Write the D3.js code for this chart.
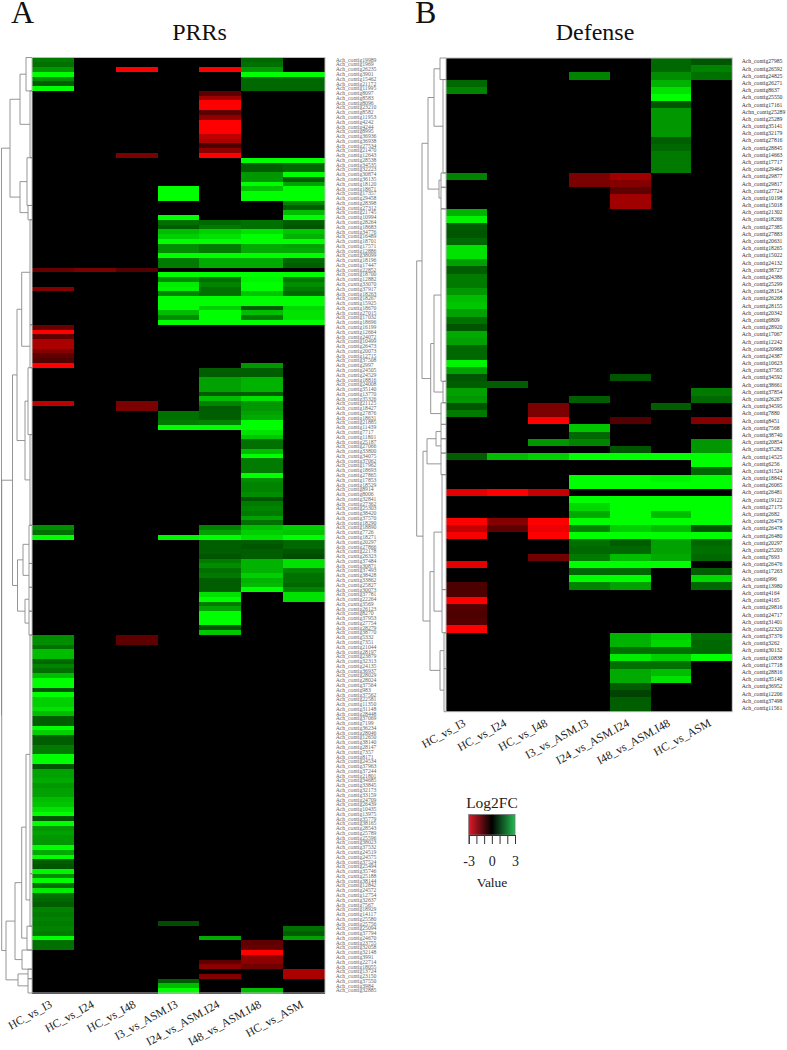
<!DOCTYPE html>
<html>
<head>
<meta charset="utf-8">
<script src="https://d3js.org/d3.v7.min.js"></script>
<style>
  body { margin: 0; background: #fff; }
  text { font-family: "Liberation Serif", serif; }
</style>
</head>
<body>
<div id="container"></div>
<script>
"use strict";

const samples = ["HC_vs_I3", "HC_vs_I24", "HC_vs_I48", "I3_vs_ASM.I3", "I24_vs_ASM.I24", "I48_vs_ASM.I48", "HC_vs_ASM"];

const prrGenes = [
  "19989","1969","26235","3901","15462","21172","11995","8097","8583","8096",
  "23210","8582","11953","4242","4244","8995","36936","36938","27534","21470",
  "12643","28538","34535","32223","30874","36135","18120","18671","17357","29458",
  "28398","27312","21745","10994","28264","18683","34776","16489","18701","17571",
  "12886","38099","18196","17447","22852","18700","12882","33070","37917","18263",
  "18267","15925","18670","27015","17032","18696","16199","12664","24072","10499",
  "26473","20073","12715","37508","2997","24505","24529","18816","24008","35140",
  "13770","35326","21125","18427","27876","18631","21885","11439","7717","11801",
  "25187","27066","33800","34075","37062","17962","18693","27865","17853","18529",
  "8914","8006","32841","27362","25303","38420","37570","18290","18890","7726",
  "18271","20297","27866","22178","26323","37484","30871","37493","38428","33862",
  "25827","30073","37781","22264","3569","26123","8270","37953","27754","28279",
  "38770","5332","7351","21044","28197","23879","32313","24135","36937","28029",
  "28024","37564","983","37562","22581","11350","31148","28448","37069","7199",
  "36234","28046","12650","38140","28147","7357","8171","24534","37963","37244",
  "21801","34685","33845","32173","33159","24709","26439","10435","13975","35779",
  "38165","28543","25789","25596","38023","37532","24519","24575","37524","25494",
  "35746","25188","38144","12842","24572","12754","32637","7567","18929","14117",
  "25580","25756","25094","37794","24670","23755","32058","32148","3991","22714",
  "18055","13724","23150","37550","3984","32885",
];

const prrHcI3 = [
  1.3,1.2,1.6,2.9,1.5,1,2.9,0,0,0,
  0,0,0,0,0,0,0,0,0,0,
  0,0,0,0,0,0,0,0,0,0,
  0,0,0,0,0,0,0,0,0,0,
  0,0,0,0,-1.1,0,0,0,-1.4,0,
  0,0,0,0,0,0,-1.1,-3,-1,-1.8,
  -1.8,-1.4,-1,-0.9,-3,0,0,0,0,0,
  0,0,-2,0,0,0,0,0,0,0,
  0,0,0,0,0,0,0,0,0,0,
  0,0,0,0,0,0,0,0,1.5,1.2,
  3,0,0,0,0,0,0,0,0,0,
  0,0,0,0,0,0,0,0,0,0,
  0,1.5,1.5,1.2,2,2,1.1,1.4,1.2,2,
  3,3,0.9,3,2.2,2.2,2.4,2,1,1,
  2.9,2.2,1,1,1.3,1.3,3,3,0.9,1.7,
  1.7,1.8,1.6,1.7,1.7,2,2.1,2.4,2.8,0.9,
  3,1.6,1.7,1.6,1.6,3,1.8,2.8,1,0.9,
  2.6,1.5,2.8,1.2,2.5,1.2,1.1,1,1.4,1.3,
  1.4,1.3,1.4,1.3,3,1.2,1.2,0,0,0,
  0,0,0,0,0,0,
];
const prrHcI24 = [
  0,0,0,0,0,0,0,0,0,0,
  0,0,0,0,0,0,0,0,0,0,
  0,0,0,0,0,0,0,0,0,0,
  0,0,0,0,0,0,0,0,0,0,
  0,0,0,0,-1.3,0,0,0,0,0,
  0,0,0,0,0,0,0,0,0,0,
  0,0,0,0,0,0,0,0,0,0,
  0,0,0,0,0,0,0,0,0,0,
  0,0,0,0,0,0,0,0,0,0,
  0,0,0,0,0,0,0,0,0,0,
  0,0,0,0,0,0,0,0,0,0,
  0,0,0,0,0,0,0,0,0,0,
  0,0,0,0,0,0,0,0,0,0,
  0,0,0,0,0,0,0,0,0,0,
  0,0,0,0,0,0,0,0,0,0,
  0,0,0,0,0,0,0,0,0,0,
  0,0,0,0,0,0,0,0,0,0,
  0,0,0,0,0,0,0,0,0,0,
  0,0,0,0,0,0,0,0,0,0,
  0,0,0,0,0,0,
];
const prrHcI48 = [
  0,0,-3,0,0,0,0,0,0,0,
  0,0,0,0,0,0,0,0,0,0,
  -1.3,0,0,0,0,0,0,0,0,0,
  0,0,0,0,0,0,0,0,0,0,
  0,0,0,0,-0.9,0,0,0,0,0,
  0,0,0,0,0,0,0,0,0,0,
  0,0,0,0,0,0,0,0,0,0,
  0,0,-1.3,-1.3,0,0,0,0,0,0,
  0,0,0,0,0,0,0,0,0,0,
  0,0,0,0,0,0,0,0,0,0,
  0,0,0,0,0,0,0,0,0,0,
  0,0,0,0,0,0,0,0,0,0,
  0,-1,-1,0,0,0,0,0,0,0,
  0,0,0,0,0,0,0,0,0,0,
  0,0,0,0,0,0,0,0,0,0,
  0,0,0,0,0,0,0,0,0,0,
  0,0,0,0,0,0,0,0,0,0,
  0,0,0,0,0,0,0,0,0,0,
  0,0,0,0,0,0,0,0,0,0,
  0,0,0,0,0,0,
];
const prrI3Asm = [
  0,0,0,0,0,0,0,0,0,0,
  0,0,0,0,0,0,0,0,0,0,
  0,0,0,0,0,0,0,3,3,3,
  0,0,0,2.8,1.2,1,2,2.2,2.9,1.5,
  1.5,3,1.3,1.3,0,2.9,1.5,2.5,2.6,1.4,
  2.7,3,3,2,1.5,3,0,0,0,0,
  0,0,0,0,0,0,0,0,0,0,
  0,0,0,0,1.2,1.2,1.3,2.8,0,0,
  0,0,0,0,0,0,0,0,0,0,
  0,0,0,0,0,0,0,0,0,0,
  2.6,0,0,0,0,0,0,0,0,0,
  0,0,0,0,0,0,0,0,0,0,
  0,0,0,0,0,0,0,0,0,0,
  0,0,0,0,0,0,0,0,0,0,
  0,0,0,0,0,0,0,0,0,0,
  0,0,0,0,0,0,0,0,0,0,
  0,0,0,0,0,0,0,0,0,0,
  0,0,0,0,0,0,0,0,0,0,
  0,0.8,0,0,0,0,0,0,0,0,
  0,0,0,1,2,3,
];
const prrI24Asm = [
  0,0,-3,0,0,0,0,-1,-1.7,-3,
  -2.8,-1,-1.5,-3,-3,-3,-2,-1.8,-0.8,-1.5,
  -3,0,0,0,0,0,0,0,0,0,
  0,0,0,0,1.1,1.3,2.2,2.4,3,1.3,
  1.3,3,1.8,1.8,0,2.9,1.2,1.4,1.2,1.2,
  3,3,2.2,2.8,2.8,3,0,0,0,0,
  0,0,0,0,0,1,1,1.7,1.7,1.7,
  1,2,1.4,1,1,1,1.4,2.7,0,0,
  0,0,0,0,0,0,0,0,0,0,
  0,0,0,0,0,0,0,0,1.4,1.7,
  2.9,1,1,1,0.9,1.3,1.5,1.2,1.3,1,
  1,1,2.4,2.7,1.3,1.7,3,3,3,0.9,
  2.1,0,0,0,0,0,0,0,0,0,
  0,0,0,0,0,0,0,0,0,0,
  0,0,0,0,0,0,0,0,0,0,
  0,0,0,0,0,0,0,0,0,0,
  0,0,0,0,0,0,0,0,0,0,
  0,0,0,0,0,0,0,0,0,0,
  0,0,0,0,1.8,0,0,0,0,-1,
  -1.5,0,-1.4,0,0,0,
];
const prrI48Asm = [
  1.1,1.2,1.6,2.9,1.1,1.1,1.1,0,0,0,
  0,0,0,0,0,0,0,0,0,0,
  0,3,1,1,1.6,1.6,2.9,2.1,3,3,
  0,0,0,0,1.2,1.2,2.4,3,3,1.8,
  1.8,3,1.8,1.8,0,2.9,2.6,2.8,2.8,2.1,
  3,3,1,2,1.3,3,0,0,0,0,
  0,0,0,0,1.6,1,1,1.9,1.9,1.9,
  1,2.4,1.6,1.6,1.7,1.8,2.9,3,2.4,2.1,
  1.2,1.2,2,2.9,1.3,1.3,1.3,3,1.5,1.4,
  1.4,1.5,0.9,1.3,1.4,1.3,1.7,1.2,2,2.2,
  2.4,1,0.9,1,1,1.9,1.9,1.9,2.2,1.9,
  2,3,0,0,0,0,0,0,0,0,
  0,0,0,0,0,0,0,0,0,0,
  0,0,0,0,0,0,0,0,0,0,
  0,0,0,0,0,0,0,0,0,0,
  0,0,0,0,0,0,0,0,0,0,
  0,0,0,0,0,0,0,0,0,0,
  0,0,0,0,0,0,0,0,0,0,
  0,0,0,0,0,-1,-1.1,-3,-1.5,-1.5,
  -1.2,0,0,0,0,2,
];
const prrHcAsm = [
  0,0,0,2.9,1.1,1.1,1.1,0,0,0,
  0,0,0,0,0,0,0,0,0,0,
  0,3,1.1,1.1,2.8,1,1.7,2.8,2.8,2.8,
  1.4,1,2,2.9,1,0.9,2.1,1.9,2.8,1.7,
  1.8,2.9,1.1,1,0,2.9,1.3,1.5,1.3,1.1,
  2.8,2.9,2.3,2.4,2.4,3,0,0,0,0,
  0,0,0,0,0,0,0,0,0,0,
  0,0,0,0,0,0,0,0,0,0,
  0,0,0,0,0,0,0,0,0,0,
  0,0,0,0,0,0,0,0,2.2,2.1,
  3,1.1,1.1,0.9,0.8,2.4,2.4,1.4,1.2,1.2,
  1.1,1.4,2.4,2.4,0,0,0,0,0,0,
  0,0,0,0,0,0,0,0,0,0,
  0,0,0,0,0,0,0,0,0,0,
  0,0,0,0,0,0,0,0,0,0,
  0,0,0,0,0,0,0,0,0,0,
  0,0,0,0,0,0,0,0,0,0,
  0,0,0,0,0,0,0,0,0,0,
  0,0,1.2,1,1.7,0,0,0,0,0,
  0,-1.8,-1.8,0,0,0,
];

const defGenes = [
  "Ach_contig27985","Ach_contig26592","Ach_contig24825","Ach_contig26271","Ach_contig8637","Ach_contig25550","Ach_contig17161","Achn_contig25289","Ach_contig25289","Ach_contig35141",
  "Ach_contig32179","Ach_contig27816","Ach_contig28845","Ach_contig14663","Ach_contig17717","Ach_contig29464","Ach_contig29877","Ach_contig29817","Ach_contig27724","Ach_contig10198",
  "Ach_contig15018","Ach_contig21302","Ach_contig18266","Ach_contig27385","Ach_contig27883","Ach_contig20631","Ach_contig18265","Ach_contig15022","Ach_contig24132","Ach_contig38727",
  "Ach_contig24386","Ach_contig25299","Ach_contig28154","Ach_contig26268","Ach_contig28155","Ach_contig20342","Ach_contig6809","Ach_contig28920","Ach_contig17067","Ach_contig12242",
  "Ach_contig20968","Ach_contig24387","Ach_contig10623","Ach_contig37565","Ach_contig34592","Ach_contig38661","Ach_contig37854","Ach_contig26267","Ach_contig34595","Ach_contig7880",
  "Ach_contig8451","Ach_contig7568","Ach_contig38740","Ach_contig20854","Ach_contig35282","Ach_contig14525","Ach_contig6256","Ach_contig31524","Ach_contig18842","Ach_contig26065",
  "Ach_contig26481","Ach_contig19122","Ach_contig27175","Ach_contig2682","Ach_contig26479","Ach_contig26478","Ach_contig26480","Ach_contig20297","Ach_contig25203","Ach_contig7693",
  "Ach_contig26476","Ach_contig17263","Ach_contig996","Ach_contig13980","Ach_contig4164","Ach_contig4165","Ach_contig29816","Ach_contig24717","Ach_contig31401","Ach_contig22320",
  "Ach_contig37376","Ach_contig3262","Ach_contig30132","Ach_contig10838","Ach_contig17718","Ach_contig28816","Ach_contig35140","Ach_contig36952","Ach_contig12206","Ach_contig37498",
  "Ach_contig11561",
];

const defHcI3 = [
  0,0,0,1.1,1.4,0,0,0,0,0,
  0,0,0,0,0,0,1.4,0,0,0,
  0,1.9,2.6,1,0.9,1.1,2.4,2.4,1.7,1,
  1.3,1.3,1.6,2,2.1,1.7,1.2,0.9,1.8,1.7,
  1.1,1.1,2.6,1.7,0.9,1,1.7,1.6,0.9,1.3,
  0,0,0,0,0,1,0,0,0,0,
  -2.4,0,0,0,-3,-2.1,-2.6,0,0,0,
  -2.4,0,0,-0.8,-0.8,-3,-0.9,-0.8,-0.9,-3,
  0,0,0,0,0,0,0,0,0,0,
  0,
];
const defHcI24 = [
  0,0,0,0,0,0,0,0,0,0,
  0,0,0,0,0,0,0,0,0,0,
  0,0,0,0,0,0,0,0,0,0,
  0,0,0,0,0,0,0,0,0,0,
  0,0,0,0,0,1,0,0,0,0,
  0,0,0,0,0,2,0,0,0,0,
  -3,0,0,0,-1.4,-1,0,0,0,0,
  0,0,0,0,0,0,0,0,0,0,
  0,0,0,0,0,0,0,0,0,0,
  0,
];
const defHcI48 = [
  0,0,0,0,0,0,0,0,0,0,
  0,0,0,0,0,0,0,0,0,0,
  0,0,0,0,0,0,0,0,0,0,
  0,0,0,0,0,0,0,0,0,0,
  0,0,0,0,0,0,0,0,-1.3,-1.3,
  -3,0,0,1.6,0,2.2,0,0,0,0,
  -2.1,0,0,0,-3,-2.5,-3,0,0,-1.2,
  0,0,0,0,0,0,0,0,0,0,
  0,0,0,0,0,0,0,0,0,0,
  0,
];
const defI3Asm = [
  0,0,1.4,0,0,0,0,0,0,0,
  0,0,0,0,0,0,-1.3,-1.3,0,0,
  0,0,0,0,0,0,0,0,0,0,
  0,0,0,0,0,0,0,0,0,0,
  0,0,0,0,0,0,0,1,0,0,
  0,2.1,1.1,1.4,0,3,0,0,3,3,
  0,3,2.3,1.8,3,1.4,3,1.2,1.1,1.3,
  3,1.1,3,1.4,0,0,0,0,0,0,
  0,0,0,0,0,0,0,0,0,0,
  0,
];
const defI24Asm = [
  0,0,0,0,0,0,0,0,0,0,
  0,0,0,0,0,0,-1.7,-1.4,-1,-1.7,
  -1.7,0,0,0,0,0,0,0,0,0,
  0,0,0,0,0,0,0,0,0,0,
  0,0,0,0,0.9,0,0,0,0,0,
  -0.9,0,0,0,0.9,3,0,0,2.8,3,
  0,3,3,3,3,2.2,3,1,1.1,2,
  3,1.1,3,1.7,0,0,0,0,0,0,
  1.9,1.9,1.2,2.5,1.2,1.8,1.8,1,0.7,1,
  1,
];
const defI48Asm = [
  1.1,1.1,1.5,1.9,2.4,3,0.9,1.6,1.6,1.6,
  1.6,1,1.1,1.3,1.3,1.3,0,0,0,0,
  0,0,0,0,0,0,0,0,0,0,
  0,0,0,0,0,0,0,0,0,0,
  0,0,0,0,0,0,0,0,1,0,
  0,0,0,0,0,3,0,0,2.6,3,
  0,3,3,2,3,2,3,1.7,1.7,1.8,
  3,0,0,0,0,0,0,0,0,0,
  2.2,2.3,1.2,2.2,1.2,2,2.4,0,0,0,
  0,
];
const defHcAsm = [
  0.9,1.4,1.2,0,0,0,0,0,0,0,
  0,0,0,0,0,0,0,0,0,0,
  0,0,0,0,0,0,0,0,0,0,
  0,0,0,0,0,0,0,0,0,0,
  0,0,0,0,0,0,1.3,1.1,0,0,
  -1.4,0,0,1.6,1.6,3,3,1.1,3,3,
  0,3,3,3,3,0.9,3,1.1,1.2,1.1,
  0,1,2.3,1.1,0,0,0,0,0,0,
  1.2,1.1,1.1,2.7,0,0,0,0,0,0,
  0,
];

// dendrograms: [merge height, child, child], a child with two plain numbers is a run of rows
const prrTree = [30.5,
  [22,
    [12, [6, 0, 6], [2, 7, 20]],
    [12, [5, 21, 30], [4, 31, 33]]],
  [30.3,
    [19.5,
      [15, [10.3, [2, 34, 55], [2, 56, 64]], [7, [4, 65, 78], [2, 79, 97]]],
      [14.5, [9, [3, 98, 105], [3, 106, 110]], [7, [3, 111, 115], [3, 116, 120]]]],
    [26,
      [17, [10.3, [6, [2, 121, 170], [2, 171, 181]], [5, 182, 186]], [10, 187, 190]],
      [14, [4, 191, 192], [4, 193, 195]]]],
];
const defTree = [29.3,
  [24,
    [18, [12, [6, 0, 2], [3, 3, 15]], [7, [5, 16, 17], [5, 18, 20]]],
    [15.3, [12, [5, 21, 44], [3, 45, 47]], [5, 48, 50]]],
  [23,
    [19, [10, [5, 51, 52], [5, 53, 54]], [5, 55, 57]],
    [16, [12, [4, 58, 73], [4, 74, 79]], [6, [2, 80, 84], [2, 85, 90]]]],
];

const legendTicks = [-3, -2, -1, 0, 1, 2, 3];
const legendLabels = [-3, 0, 3];

const width = 787;
const height = 1050;
const heatColor = d3
  .scaleLinear()
  .domain([-2.7, 0, 2.7])
  .range(["#ff0000", "#000000", "#00ff00"])
  .clamp(true);
const legendColor = ["#e01a28", "#000000", "#22bb4e"];

const svg = d3
  .select("#container")
  .append("svg")
  .attr("width", width)
  .attr("height", height);

const drawTree = (g, node, xScale, yScale) => {
  // a run of rows sits at the middle of its own bracket
  if (typeof node[1] === "number") {
    const top = yScale(node[1]);
    const bottom = yScale(node[2]) + yScale.bandwidth();
    g.append("line")
      .attr("x1", xScale(node[0]))
      .attr("x2", xScale(node[0]))
      .attr("y1", top)
      .attr("y2", bottom);
    g.append("line")
      .attr("x1", xScale(node[0]))
      .attr("x2", xScale(0))
      .attr("y1", top)
      .attr("y2", top);
    g.append("line")
      .attr("x1", xScale(node[0]))
      .attr("x2", xScale(0))
      .attr("y1", bottom)
      .attr("y2", bottom);
    return { h: node[0], y: (top + bottom) / 2 };
  }
  const a = drawTree(g, node[1], xScale, yScale);
  const b = drawTree(g, node[2], xScale, yScale);
  const x = xScale(node[0]);
  g.append("line").attr("x1", x).attr("x2", x).attr("y1", a.y).attr("y2", b.y);
  g.append("line").attr("x1", x).attr("x2", xScale(a.h)).attr("y1", a.y).attr("y2", a.y);
  g.append("line").attr("x1", x).attr("x2", xScale(b.h)).attr("y1", b.y).attr("y2", b.y);
  return { h: node[0], y: (a.y + b.y) / 2 };
};

const drawPanel = (p) => {
  const xScale = d3.scaleBand().domain(samples).range([p.left, p.right]);
  const yScale = d3.scaleBand().domain(d3.range(p.genes.length)).range([p.top, p.bottom]);

  // heat cells, one column of values per sample
  const cells = p.columns.flatMap((col, i) =>
    col.map((v, row) => ({ sample: samples[i], row: row, value: v }))
  );
  svg
    .append("g")
    .selectAll("rect")
    .data(cells)
    .enter()
    .append("rect")
    .attr("x", (d) => xScale(d.sample))
    .attr("y", (d) => yScale(d.row))
    .attr("width", xScale.bandwidth())
    .attr("height", yScale.bandwidth() + 0.5)
    .attr("fill", (d) => heatColor(d.value))
    .style("shape-rendering", "crispEdges");

  svg
    .append("rect")
    .attr("x", p.left)
    .attr("y", p.top)
    .attr("width", p.right - p.left)
    .attr("height", p.bottom - p.top)
    .attr("fill", "none")
    .attr("stroke", "#bdbdbd")
    .attr("stroke-width", 1);

  const treeX = d3.scaleLinear().domain([0, 31]).range([p.left, p.left - 31]);
  const treeG = svg
    .append("g")
    .attr("stroke", "#8a8a8a")
    .attr("stroke-width", 0.9)
    .attr("fill", "none");
  drawTree(treeG, p.tree, treeX, yScale);

  const rowAxis = d3
    .axisRight(yScale)
    .tickSize(0)
    .tickPadding(0)
    .tickFormat((i) => p.genes[i]);
  const rowG = svg
    .append("g")
    .attr("transform", `translate(${p.labelX}, 0)`)
    .call(rowAxis);
  rowG.select(".domain").remove();
  rowG
    .selectAll("text")
    .style("font-family", "'Liberation Serif', serif")
    .style("font-size", "5.7px")
    .attr("fill", p.labelColor);

  const colAxis = d3.axisBottom(xScale).tickSize(0).tickPadding(0);
  const colG = svg
    .append("g")
    .attr("transform", `translate(0, ${p.bottom + 13.6})`)
    .call(colAxis);
  colG.select(".domain").remove();
  colG
    .selectAll("text")
    .style("font-family", "'Liberation Serif', serif")
    .style("font-size", "11.7px")
    .attr("fill", "#222")
    .attr("text-anchor", "end")
    .attr("y", 0)
    .attr("dy", 0)
    .attr("transform", "rotate(-29)");

  svg
    .append("text")
    .attr("x", p.letterX)
    .attr("y", 23)
    .text(p.letter)
    .style("font-size", "32px")
    .attr("fill", "#111");
  svg
    .append("text")
    .attr("x", p.titleX)
    .attr("y", 40)
    .attr("text-anchor", "middle")
    .text(p.title)
    .style("font-size", "24px")
    .attr("fill", "#111");
};

drawPanel({
  left: 32,
  right: 325,
  top: 57.5,
  bottom: 993,
  labelX: 335.7,
  labelColor: "#666",
  letter: "A",
  letterX: 11,
  title: "PRRs",
  titleX: 199.5,
  // gene ids in panel A are printed with the same Ach_contig prefix
  genes: prrGenes.map((id) => "Ach_contig" + id),
  columns: [prrHcI3, prrHcI24, prrHcI48, prrI3Asm, prrI24Asm, prrI48Asm, prrHcAsm],
  tree: prrTree,
});

drawPanel({
  left: 446,
  right: 732.3,
  top: 58,
  bottom: 711.7,
  labelX: 741.7,
  labelColor: "#333",
  letter: "B",
  letterX: 415,
  title: "Defense",
  titleX: 595,
  genes: defGenes,
  columns: [defHcI3, defHcI24, defHcI48, defI3Asm, defI24Asm, defI48Asm, defHcAsm],
  tree: defTree,
});

// colour key
const defs = svg.append("defs");
const gradient = defs.append("linearGradient").attr("id", "key-gradient");
legendColor.forEach((c, i) => {
  gradient
    .append("stop")
    .attr("offset", `${i * 50}%`)
    .attr("stop-color", c);
});

const keyScale = d3.scaleLinear().domain([-3, 3]).range([468.7, 515]);
svg
  .append("rect")
  .attr("x", keyScale(-3))
  .attr("y", 814.5)
  .attr("width", keyScale(3) - keyScale(-3))
  .attr("height", 20.5)
  .attr("fill", "url(#key-gradient)")
  .attr("stroke", "#777")
  .attr("stroke-width", 0.8);

const keyAxis = d3
  .axisBottom(keyScale)
  .tickValues(legendTicks)
  .tickSize(9)
  .tickPadding(12)
  .tickFormat((v) => (legendLabels.includes(v) ? String(v) : ""));
const keyG = svg
  .append("g")
  .attr("transform", "translate(0, 835)")
  .call(keyAxis);
keyG.select(".domain").attr("stroke", "#333");
keyG.selectAll("line").attr("stroke", "#333");
keyG
  .selectAll("text")
  .style("font-family", "'Liberation Serif', serif")
  .style("font-size", "14px")
  .attr("fill", "#222");

svg
  .append("text")
  .attr("x", 492)
  .attr("y", 808)
  .attr("text-anchor", "middle")
  .text("Log2FC")
  .style("font-size", "15.5px")
  .attr("fill", "#222");
svg
  .append("text")
  .attr("x", 492)
  .attr("y", 887)
  .attr("text-anchor", "middle")
  .text("Value")
  .style("font-size", "13.5px")
  .attr("fill", "#222");
</script>
</body>
</html>
